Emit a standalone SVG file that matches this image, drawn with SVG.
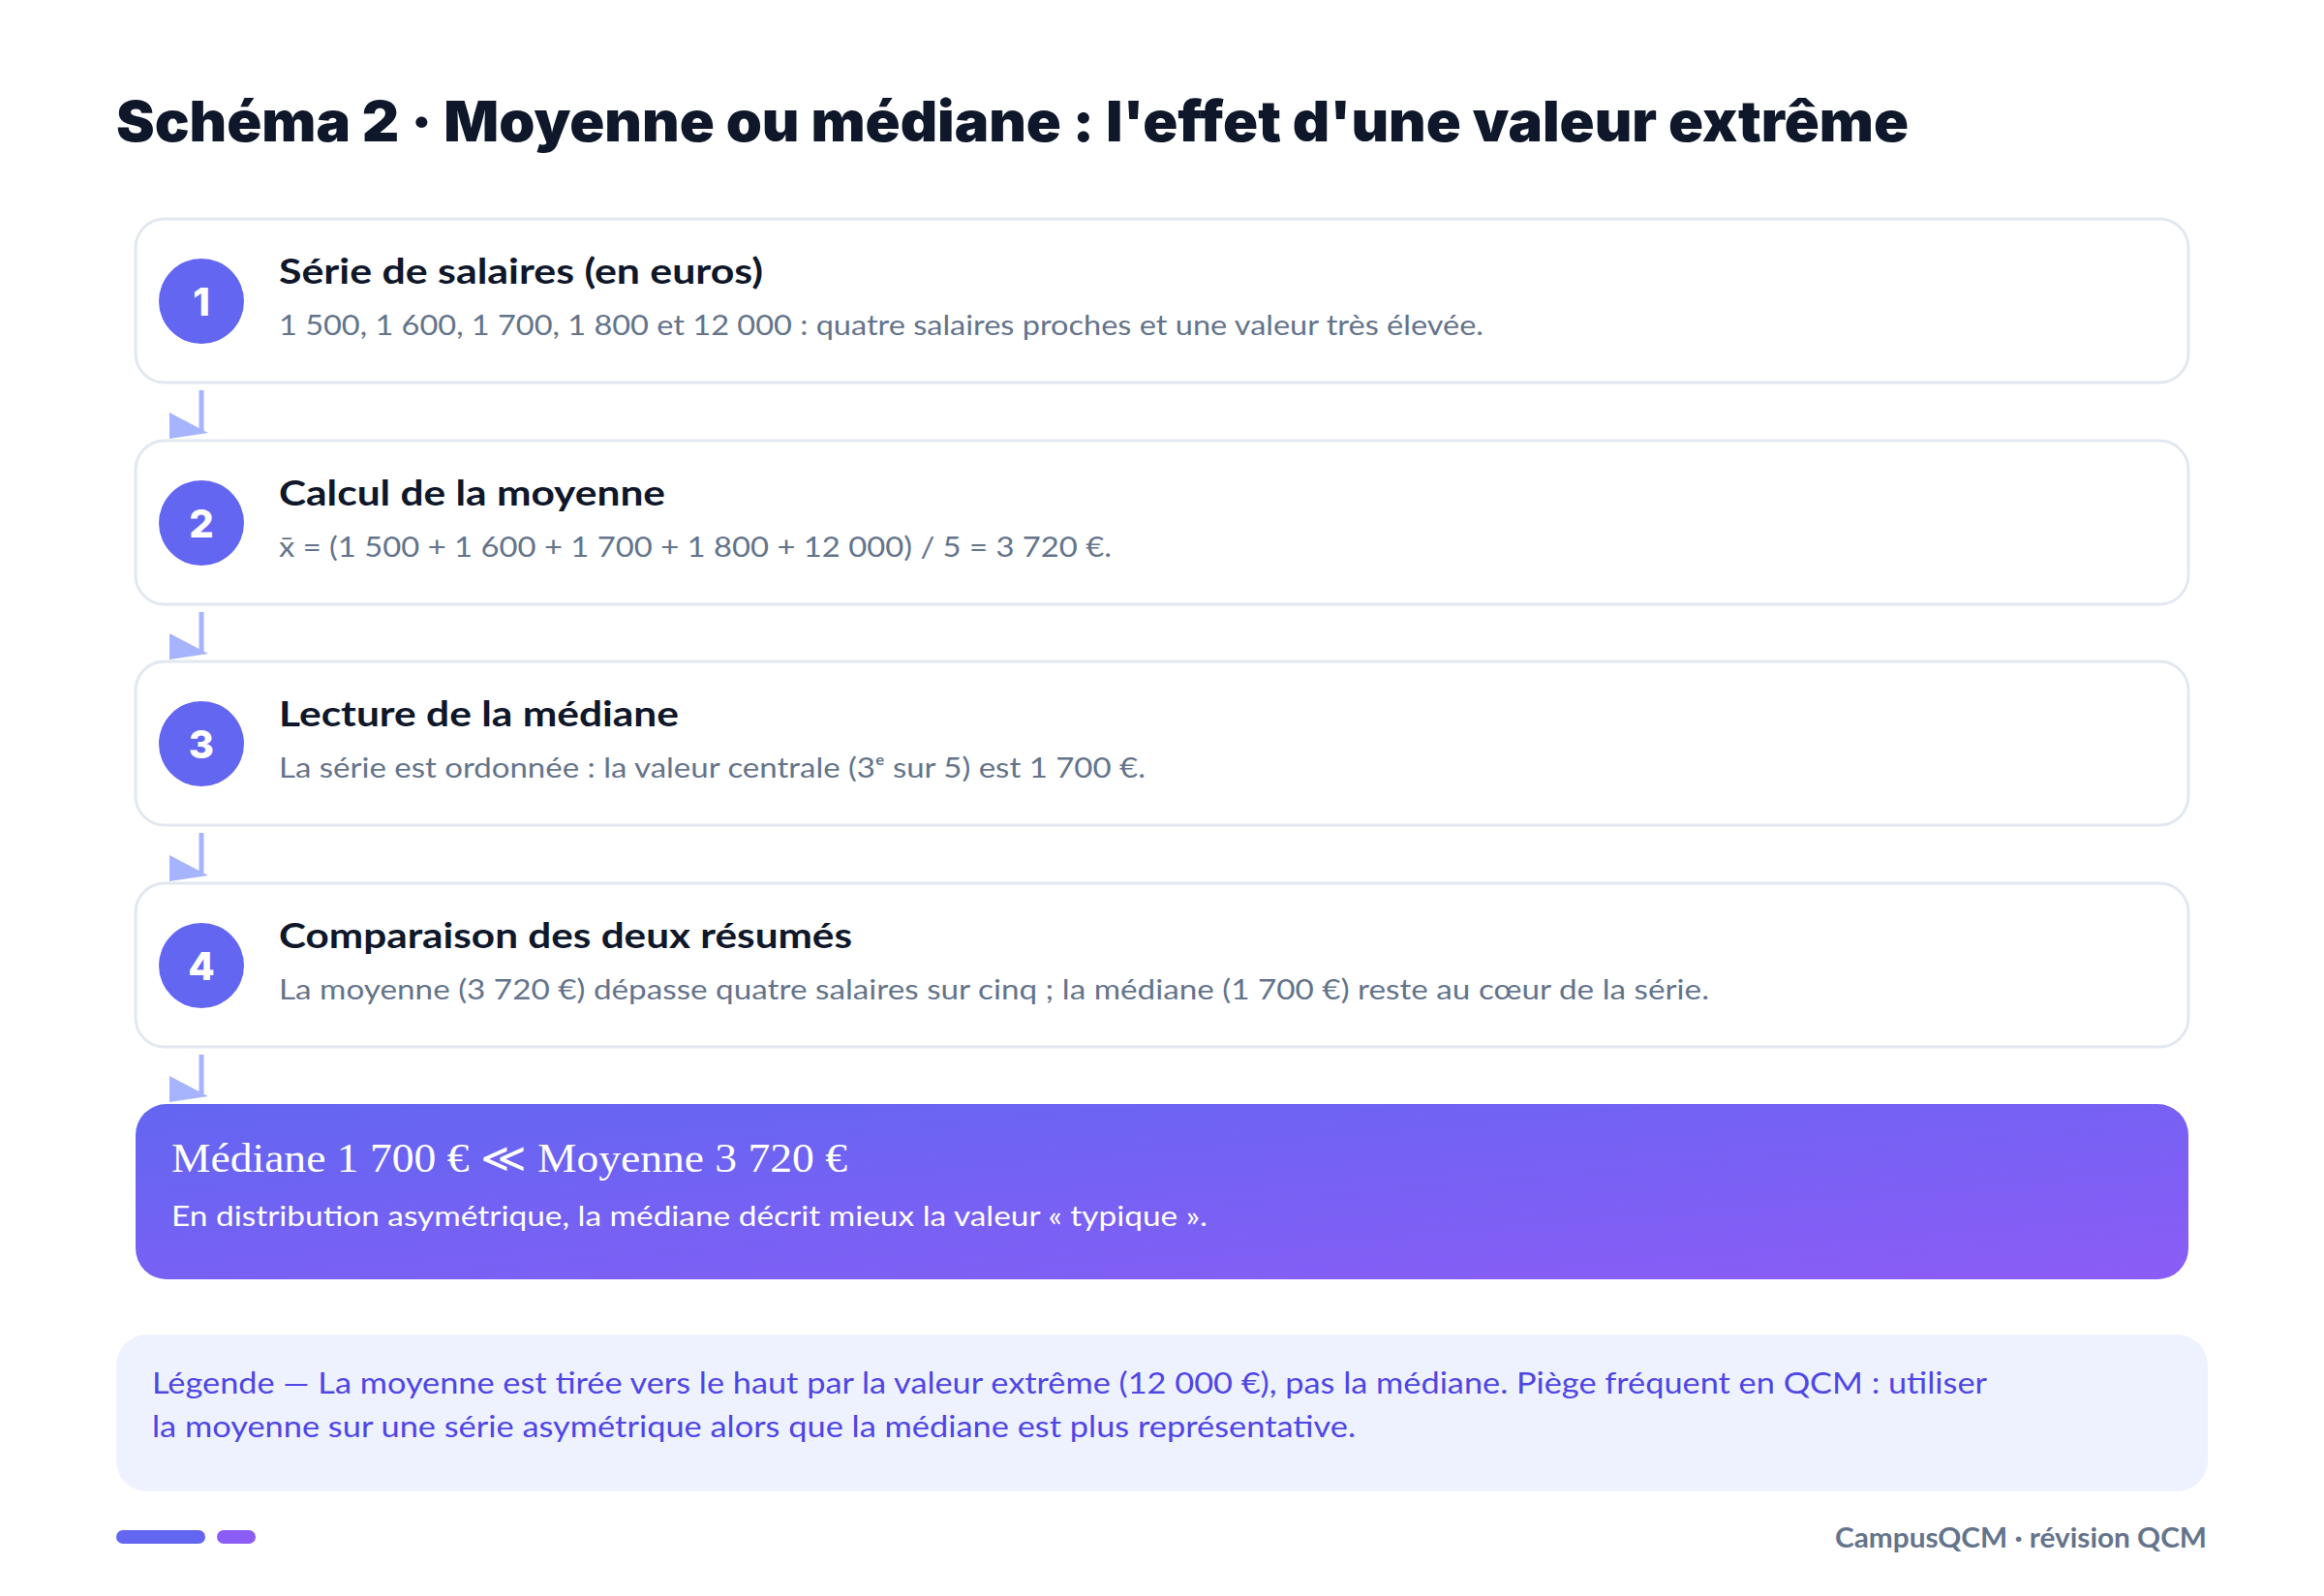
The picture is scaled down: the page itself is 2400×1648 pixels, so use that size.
<svg xmlns="http://www.w3.org/2000/svg" width="2400" height="1648" viewBox="0 0 2400 1648">
  <defs>
    <linearGradient id="grad" x1="0" y1="0" x2="1" y2="1">
      <stop offset="0" stop-color="#6366f1"/>
      <stop offset="1" stop-color="#8b5cf6"/>
    </linearGradient>
    <marker id="arrow" markerUnits="userSpaceOnUse" viewBox="0 0 40 27" markerWidth="40" markerHeight="27" refX="33" refY="21" orient="0">
      <path d="M0,0 L40,21 L0,27 Z" fill="#a5b4fc"/>
    </marker>
    <style>
      .box { fill: #ffffff; stroke: #e2e8f0; stroke-width: 3; }
      .badge { fill: #6366f1; }
      .num { font-family: Inter, Lato, "Open Sans", sans-serif; font-weight: 800; font-size: 40px; fill: #ffffff; text-anchor: middle; }
      .stitle { font-family: Lato, "Open Sans", sans-serif; font-weight: 700; font-size: 36px; fill: #0f172a; }
      .desc { font-family: Lato, "Open Sans", sans-serif; font-size: 29px; fill: #64748b; }
      .conn { stroke: #a5b4fc; stroke-width: 5; fill: none; marker-end: url(#arrow); }
    </style>
  </defs>
  <rect width="2400" height="1648" fill="#ffffff"/>

  <text x="120" y="146" font-family="Inter, Lato, 'Open Sans', sans-serif" font-weight="900" font-size="58" fill="#0f172a" textLength="1851" lengthAdjust="spacingAndGlyphs">Schéma 2 · Moyenne ou médiane : l'effet d'une valeur extrême</text>

  <g id="connectors">
    <line class="conn" x1="208" y1="403" x2="208" y2="447"/>
    <line class="conn" x1="208" y1="632" x2="208" y2="675"/>
    <line class="conn" x1="208" y1="860" x2="208" y2="904"/>
    <line class="conn" x1="208" y1="1089" x2="208" y2="1132"/>
  </g>

  <g id="step1">
    <rect class="box" x="140" y="226" width="2120" height="169" rx="30"/>
    <circle class="badge" cx="208" cy="311" r="44"/>
    <text class="num" x="208" y="326">1</text>
    <text class="stitle" x="288" y="293" textLength="500" lengthAdjust="spacingAndGlyphs">Série de salaires (en euros)</text>
    <text class="desc" x="288" y="346" textLength="1244" lengthAdjust="spacingAndGlyphs">1 500, 1 600, 1 700, 1 800 et 12 000 : quatre salaires proches et une valeur très élevée.</text>
  </g>

  <g id="step2">
    <rect class="box" x="140" y="455" width="2120" height="169" rx="30"/>
    <circle class="badge" cx="208" cy="540" r="44"/>
    <text class="num" x="208" y="555">2</text>
    <text class="stitle" x="288" y="522" textLength="399" lengthAdjust="spacingAndGlyphs">Calcul de la moyenne</text>
    <text class="desc" x="288" y="575" textLength="860" lengthAdjust="spacingAndGlyphs">x̄ = (1 500 + 1 600 + 1 700 + 1 800 + 12 000) / 5 = 3 720 €.</text>
  </g>

  <g id="step3">
    <rect class="box" x="140" y="683" width="2120" height="169" rx="30"/>
    <circle class="badge" cx="208" cy="768" r="44"/>
    <text class="num" x="208" y="783">3</text>
    <text class="stitle" x="288" y="750" textLength="413" lengthAdjust="spacingAndGlyphs">Lecture de la médiane</text>
    <text class="desc" x="288" y="803" textLength="895" lengthAdjust="spacingAndGlyphs">La série est ordonnée : la valeur centrale (3ᵉ sur 5) est 1 700 €.</text>
  </g>

  <g id="step4">
    <rect class="box" x="140" y="912" width="2120" height="169" rx="30"/>
    <circle class="badge" cx="208" cy="997" r="44"/>
    <text class="num" x="208" y="1012">4</text>
    <text class="stitle" x="288" y="979" textLength="592" lengthAdjust="spacingAndGlyphs">Comparaison des deux résumés</text>
    <text class="desc" x="288" y="1032" textLength="1477" lengthAdjust="spacingAndGlyphs">La moyenne (3 720 €) dépasse quatre salaires sur cinq ; la médiane (1 700 €) reste au cœur de la série.</text>
  </g>

  <g id="result">
    <rect x="140" y="1140" width="2120" height="181" rx="32" fill="url(#grad)"/>
    <text x="177" y="1210" font-family="'Liberation Serif', 'DejaVu Serif', serif" font-size="42" fill="#ffffff" textLength="698" lengthAdjust="spacingAndGlyphs">Médiane 1 700 € ≪ Moyenne 3 720 €</text>
    <text x="177" y="1266" font-family="Lato, 'Open Sans', sans-serif" font-size="29" fill="#ffffff" textLength="1070" lengthAdjust="spacingAndGlyphs">En distribution asymétrique, la médiane décrit mieux la valeur « typique ».</text>
  </g>

  <g id="legend">
    <rect x="120" y="1378" width="2160" height="162" rx="32" fill="#eef2ff"/>
    <text x="157" y="1439" font-family="Lato, 'Open Sans', sans-serif" font-size="31" fill="#4f46e5" textLength="1895" lengthAdjust="spacingAndGlyphs">Légende — La moyenne est tirée vers le haut par la valeur extrême (12 000 €), pas la médiane. Piège fréquent en QCM : utiliser</text>
    <text x="157" y="1484" font-family="Lato, 'Open Sans', sans-serif" font-size="31" fill="#4f46e5" textLength="1243" lengthAdjust="spacingAndGlyphs">la moyenne sur une série asymétrique alors que la médiane est plus représentative.</text>
  </g>

  <g id="footer">
    <rect x="120" y="1580" width="92" height="14" rx="7" fill="#6366f1"/>
    <rect x="224" y="1580" width="40" height="14" rx="7" fill="#8b5cf6"/>
    <text x="2279" y="1598" text-anchor="end" font-family="Lato, 'Open Sans', sans-serif" font-weight="700" font-size="29" fill="#64748b" textLength="384" lengthAdjust="spacingAndGlyphs">CampusQCM · révision QCM</text>
  </g>
</svg>
